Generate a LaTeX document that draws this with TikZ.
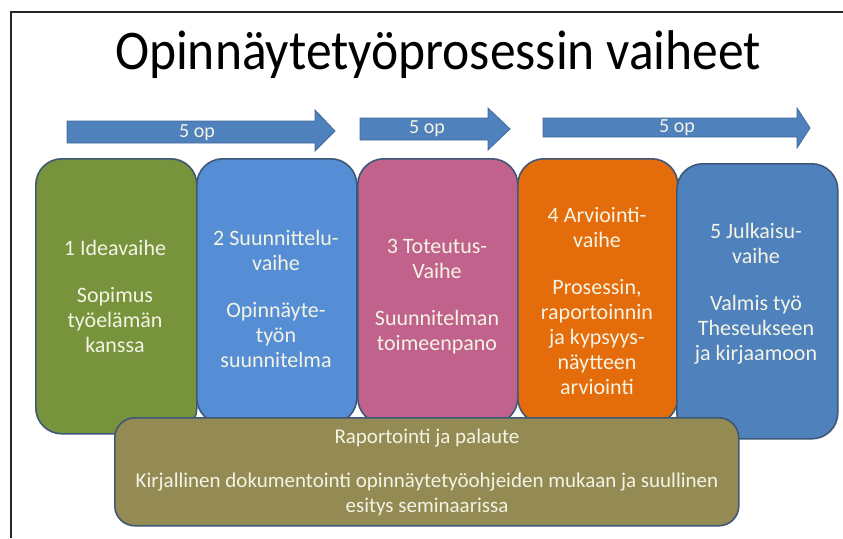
\documentclass[tikz,border=0pt]{standalone}
\usepackage{fontspec}
\setmainfont{Carlito}
\definecolor{boxline}{HTML}{3E5878}
\definecolor{ideagreen}{HTML}{77933C}
\definecolor{planblue}{HTML}{558ED5}
\definecolor{doPink}{HTML}{C0628B}
\definecolor{evalorange}{HTML}{E46C0A}
\definecolor{pubblue}{HTML}{4F81BD}
\definecolor{bandolive}{HTML}{948A54}
\definecolor{arrowblue}{HTML}{4F81BD}
\definecolor{arrowline}{HTML}{3F6A9C}
\definecolor{txtcol}{HTML}{F4F4E4}
\begin{document}
\begin{tikzpicture}[x=1pt,y=-1pt,
  phase/.style={draw=boxline, line width=1.6pt, rounded corners=26pt, minimum width=161pt, inner sep=0pt, anchor=north west},
  phtext/.style={text=txtcol, align=center, font=\fontsize{22}{25}\selectfont},
  arrowshape/.style={fill=arrowblue, draw=arrowline, line width=0.8pt},
  optext/.style={text=txtcol, font=\fontsize{20}{22}\selectfont},
  band/.style={draw=boxline, line width=1.6pt, rounded corners=20pt, fill=bandolive, inner sep=0pt, anchor=north west},
  bandtext/.style={text=txtcol, align=center, font=\fontsize{21}{25}\selectfont}]
\useasboundingbox[fill=white] (0,0) rectangle (843,538);
% frame
\draw[line width=2.4pt, black!85] (11,538) -- (11,12) -- (843,12);
% title
\node[anchor=base, font=\fontsize{56}{64}\selectfont] (title) at (438,69) {\scalebox{0.92}[1]{Opinnäytetyöprosessin vaiheet}};
% arrows
\draw[arrowshape] (67,121) -- (315,121) -- (315,110) -- (335,131) -- (315,151) -- (315,143) -- (67,143) -- cycle;
\node[optext] (op1) at (197,133) {5 op};
\draw[arrowshape] (360,118) -- (488,118) -- (488,108) -- (510,129) -- (488,150) -- (488,140) -- (360,140) -- cycle;
\node[optext] (op2) at (427,129) {5 op};
\draw[arrowshape] (543,118) -- (797,118) -- (797,108) -- (810,128) -- (797,148) -- (797,137) -- (543,137) -- cycle;
\node[optext] (op3) at (677,128) {5 op};
% phase boxes
\node[phase, fill=ideagreen, minimum height=275pt] (b1) at (35,158) {};
\node[phase, fill=planblue, minimum width=160pt, minimum height=265pt] (b2) at (196,158) {};
\node[phase, fill=doPink, minimum width=160pt, minimum height=265pt] (b3) at (357,158) {};
\node[phase, fill=evalorange, minimum width=160pt, minimum height=265pt] (b4) at (517,158) {};
\node[phase, fill=pubblue, minimum height=275pt] (b5) at (676,163) {};
\node[phtext] (t1) at (115,296) {1 Ideavaihe\\[22pt]Sopimus\\työelämän\\kanssa};
\node[phtext] (t2) at (276,299) {2 Suunnittelu-\\vaihe\\[22pt]Opinnäyte-\\työn\\suunnitelma};
\node[phtext] (t3) at (437,297) {3 Toteutus-\\Vaihe\\[22pt]Suunnitelman\\toimeenpano};
\node[phtext] (t4) at (597,301) {4 Arviointi-\\vaihe\\[22pt]Prosessin,\\raportoinnin\\ja kypsyys-\\näytteen\\arviointi};
\node[phtext] (t5) at (756,294) {5 Julkaisu-\\vaihe\\[22pt]Valmis työ\\Theseukseen\\ja kirjaamoon};
% band
\node[band, minimum width=624pt, minimum height=108pt] (bd) at (114,417) {};
\node[bandtext] (bt) at (427,472) {Raportointi ja palaute\\[19pt]Kirjallinen dokumentointi opinnäytetyöohjeiden mukaan ja suullinen\\esitys seminaarissa};
\end{tikzpicture}
\end{document}
